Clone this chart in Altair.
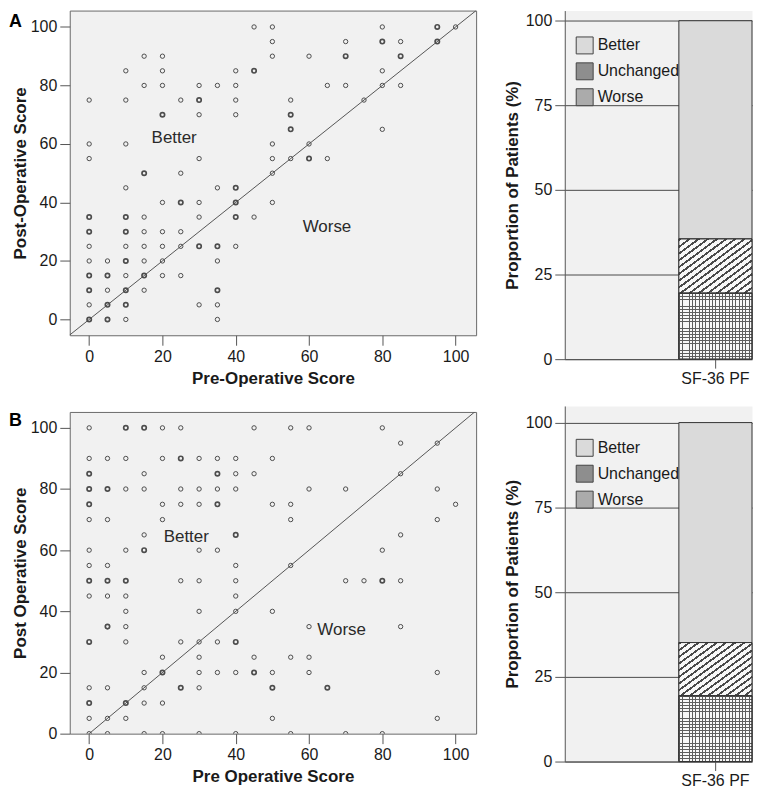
import altair as alt
import pandas as pd

FONT = "Liberation Sans"
INK = "#1a1a1a"
GRAY = "#555555"
PLOT_BG = "#f1f1f1"

# ---------------- Panel A scatter ----------------
a_pre = [
    0, 0, 0, 0, 0, 0, 0, 0, 0, 0, 0,
    5, 5, 5, 5, 5,
    10, 10, 10, 10, 10, 10, 10, 10, 10, 10, 10, 10,
    15, 15, 15, 15, 15, 15, 15, 15, 15,
    20, 20, 20, 20, 20, 20, 20, 20, 20,
    25, 25, 25, 25, 25, 25,
    30, 30, 30, 30, 30, 30, 30, 30,
    35, 35, 35, 35, 35, 35, 35,
    40, 40, 40, 40, 40, 40, 40, 40,
    45, 45, 45,
    50, 50, 50, 50, 50, 50, 50,
    55, 55, 55, 55,
    60, 60, 60,
    65, 65,
    70, 70, 70,
    75,
    80, 80, 80, 80, 80,
    85, 85, 85,
    95, 95,
    100,
]
a_post = [
    75, 60, 55, 35, 30, 25, 20, 15, 10, 5, 0,
    20, 15, 10, 5, 0,
    85, 75, 60, 45, 35, 30, 25, 20, 15, 10, 5, 0,
    90, 80, 50, 35, 30, 25, 20, 15, 10,
    90, 85, 80, 70, 40, 30, 25, 20, 15,
    75, 50, 40, 30, 25, 15,
    80, 75, 70, 55, 40, 35, 25, 5,
    80, 45, 25, 20, 10, 5, 0,
    85, 80, 75, 70, 45, 40, 35, 25,
    100, 85, 35,
    100, 95, 90, 60, 55, 50, 40,
    75, 70, 65, 55,
    90, 60, 55,
    80, 55,
    95, 90, 80,
    75,
    100, 95, 85, 80, 65,
    95, 90, 80,
    100, 95,
    100,
]
a_overlap = [
    1, 1, 1, 2, 2, 1, 1, 2, 2, 1, 2,
    1, 2, 1, 2, 2,
    1, 1, 1, 1, 2, 2, 1, 2, 1, 2, 2, 1,
    1, 1, 2, 1, 1, 1, 1, 2, 1,
    1, 1, 1, 2, 1, 1, 1, 1, 1,
    1, 1, 2, 1, 1, 1,
    1, 2, 1, 1, 1, 1, 2, 1,
    1, 1, 2, 1, 2, 1, 1,
    1, 1, 1, 1, 2, 2, 2, 1,
    1, 2, 1,
    1, 1, 1, 1, 1, 1, 1,
    1, 2, 2, 1,
    1, 1, 2,
    1, 1,
    1, 2, 1,
    1,
    1, 2, 1, 1, 1,
    1, 2, 1,
    2, 2,
    1,
]

# ---------------- Panel B scatter ----------------
b_pre = [
    0, 0, 0, 0, 0, 0, 0, 0, 0, 0, 0, 0, 0, 0, 0,
    5, 5, 5, 5, 5, 5, 5, 5, 5, 5,
    10, 10, 10, 10, 10, 10, 10, 10, 10, 10, 10,
    15, 15, 15, 15, 15, 15, 15, 15, 15,
    20, 20, 20, 20, 20, 20, 20, 20,
    25, 25, 25, 25, 25, 25, 25,
    30, 30, 30, 30, 30, 30, 30, 30, 30, 30, 30,
    35, 35, 35, 35, 35, 35, 35,
    40, 40, 40, 40, 40, 40, 40, 40, 40, 40, 40,
    45, 45, 45, 45,
    50, 50, 50, 50, 50, 50,
    55, 55, 55, 55, 55, 55,
    60, 60, 60, 60, 60,
    65,
    70, 70, 70,
    75,
    80, 80, 80, 80,
    85, 85, 85, 85, 85,
    95, 95, 95, 95, 95,
    100,
]
b_post = [
    100, 90, 85, 80, 75, 70, 60, 55, 50, 45, 30, 15, 10, 5, 0,
    90, 80, 70, 55, 50, 45, 35, 15, 5, 0,
    100, 90, 80, 60, 50, 45, 40, 35, 30, 10, 5,
    100, 85, 80, 65, 60, 20, 15, 10, 0,
    100, 90, 75, 70, 25, 20, 10, 0,
    100, 90, 80, 75, 50, 30, 15,
    90, 80, 75, 60, 50, 40, 30, 25, 20, 15, 0,
    90, 85, 80, 75, 60, 30, 20,
    90, 85, 80, 65, 55, 50, 45, 40, 30, 20, 0,
    100, 85, 25, 20,
    90, 75, 40, 20, 15, 5,
    100, 75, 70, 55, 25, 0,
    100, 80, 35, 25, 20,
    15,
    80, 50, 0,
    50,
    100, 60, 50, 0,
    95, 85, 65, 50, 35,
    95, 80, 70, 20, 5,
    75,
]
b_overlap = [
    1, 1, 2, 2, 2, 1, 1, 1, 2, 1, 2, 1, 2, 1, 1,
    1, 2, 1, 1, 2, 1, 2, 1, 1, 1,
    2, 1, 1, 1, 2, 1, 1, 1, 1, 2, 1,
    2, 1, 1, 1, 2, 1, 1, 1, 1,
    1, 1, 1, 1, 1, 2, 1, 1,
    1, 2, 1, 1, 1, 1, 2,
    1, 1, 1, 1, 1, 1, 1, 1, 1, 1, 1,
    1, 2, 1, 2, 1, 1, 1,
    1, 1, 1, 2, 1, 1, 1, 1, 2, 1, 1,
    1, 1, 1, 2,
    1, 1, 1, 1, 2, 1,
    1, 1, 1, 1, 1, 1,
    1, 1, 1, 1, 1,
    2,
    1, 1, 1,
    1,
    1, 1, 2, 1,
    1, 1, 1, 1, 1,
    1, 1, 1, 1, 1,
    1,
]

# region labels inside the scatter plots
region_text = ["Better", "Worse"]
a_label_pre = [23.2, 64.9]
a_label_post = [62.1, 31.6]
b_label_pre = [26.5, 68.9]
b_label_post = [64.3, 33.9]

# identity reference line (post = pre)
identity_vals = [-10, 110]

# ---------------- Stacked bars ----------------
status = ["Better", "Unchanged", "Worse"]
stack_rank = [3, 2, 1]
a_pct = [64.5, 16.0, 19.5]
b_pct = [64.9, 15.7, 19.4]
measure = "SF-36 PF"
bar_fill = ["#dadada", "#8e8e8e", "#ababab"]

X_DOM = [-5.3, 105.6]
TICKS = [0, 20, 40, 60, 80, 100]

HATCH_LINE = "#4a4a4a"
GRID_LINE = "#5e5e5e"
LIGHT = "#f8f8f8"


def stripes(n, frac, line_col, gap_col, x1, y1, x2, y2):
    stops = []
    for i in range(n):
        a = i / n
        b = (i + frac) / n
        c = (i + 1) / n
        stops += [alt.GradientStop(offset=a, color=line_col), alt.GradientStop(offset=b, color=line_col),
                  alt.GradientStop(offset=b, color=gap_col), alt.GradientStop(offset=c, color=gap_col)]
    return alt.LinearGradient(gradient="linear", stops=stops, x1=x1, y1=y1, x2=x2, y2=y2)


HATCH = stripes(16, 0.34, HATCH_LINE, LIGHT, 0, 0, 1, 1)
GRID_H = stripes(21, 0.27, GRID_LINE, LIGHT, 0, 0, 0, 1)
GRID_V = stripes(22, 0.27, GRID_LINE, "transparent", 0, 0, 1, 0)


def scatter(pre, post, overlap, lab_pre, lab_post, xtitle, ytitle, ydom, h, letter, letter_y):
    pts = pd.DataFrame({"pre": pre, "post": post, "n": overlap})
    labs = pd.DataFrame({"pre": lab_pre, "post": lab_post, "txt": region_text})
    ident = pd.DataFrame({"pre": identity_vals, "post": identity_vals})
    let = pd.DataFrame({"txt": [letter]})

    x = alt.X("pre:Q", scale=alt.Scale(domain=X_DOM, nice=False, zero=False),
              axis=alt.Axis(values=TICKS, title=xtitle, domain=False, grid=False,
                            tickSize=10, labelPadding=3, titlePadding=6))
    y = alt.Y("post:Q", scale=alt.Scale(domain=ydom, nice=False, zero=False),
              axis=alt.Axis(values=TICKS, title=ytitle, domain=False, grid=False,
                            tickSize=10, labelPadding=3, titlePadding=1))

    line = alt.Chart(ident).mark_line(color=GRAY, strokeWidth=1, clip=True).encode(x=x, y=y)
    dots = alt.Chart(pts).mark_point(shape="circle", filled=False, size=19, color="#4d4d4d",
                                      opacity=1, clip=True).encode(
        x=x, y=y,
        strokeWidth=alt.StrokeWidth("n:Q", scale=alt.Scale(domain=[1, 2], range=[1.0, 1.7]), legend=None),
    )
    text = alt.Chart(labs).mark_text(font=FONT, fontSize=17, color="#2a2a2a").encode(
        x=x, y=y, text="txt:N")
    letter_mark = alt.Chart(let).mark_text(font=FONT, fontSize=18, fontWeight="bold", color="#000",
                                           align="left", baseline="alphabetic").encode(
        x=alt.value(-61), y=alt.value(letter_y), text="txt:N")
    return alt.layer(line, dots, text, letter_mark).properties(
        width=408, height=h, view=alt.ViewBackground(fill=PLOT_BG, stroke="#6a6a6a", strokeWidth=1))


def bars(pct, h, ymax, legend_y):
    df = pd.DataFrame({"measure": [measure] * len(status), "status": status, "pct": pct, "rank": stack_rank})
    base = alt.Chart(df).transform_stack(
        stack="pct", groupby=["measure"], sort=[alt.SortField("rank", order="ascending")], as_=["y0", "y1"])
    x = alt.X("measure:N", scale=alt.Scale(paddingInner=0, paddingOuter=0.78, align=1),
              axis=alt.Axis(title=None, labelAngle=0, tickSize=9, labelPadding=2,
                            domainColor=GRAY, tickColor=GRAY))
    y = alt.Y("y0:Q", scale=alt.Scale(domain=[0, ymax], nice=False),
              axis=alt.Axis(values=[0, 25, 50, 75, 100], title="Proportion of Patients (%)",
                            grid=True, gridColor="#4a4a4a", gridWidth=1, domainColor=GRAY,
                            tickColor=GRAY, tickSize=10, labelPadding=3, titlePadding=4))
    y2 = alt.Y2("y1:Q")
    solid = base.mark_bar(stroke="#333333", strokeWidth=1).encode(
        x=x, y=y, y2=y2,
        fill=alt.Fill("status:N", scale=alt.Scale(domain=status, range=bar_fill),
                      legend=alt.Legend(orient="none", legendX=11, legendY=legend_y, title=None,
                                        symbolType="square", symbolSize=289, symbolStrokeColor="#444",
                                        symbolStrokeWidth=1, symbolOpacity=1, labelFont=FONT,
                                        labelFontSize=16, labelColor=INK, labelOffset=4,
                                        rowPadding=4, padding=0)),
    )
    hatch = base.transform_filter(alt.datum.status == "Unchanged").mark_bar(
        fill=HATCH, stroke="#333333", strokeWidth=1).encode(x=x, y=y, y2=y2)
    grid_h = base.transform_filter(alt.datum.status == "Worse").mark_bar(
        fill=GRID_H, stroke="#333333", strokeWidth=1).encode(x=x, y=y, y2=y2)
    grid_v = base.transform_filter(alt.datum.status == "Worse").mark_bar(
        fill=GRID_V, stroke="#333333", strokeWidth=1).encode(x=x, y=y, y2=y2)
    return alt.layer(solid, hatch, grid_h, grid_v).properties(
        width=188, height=h, view=alt.ViewBackground(fill=PLOT_BG, stroke="transparent"))


scA = scatter(a_pre, a_post, a_overlap, a_label_pre, a_label_post,
              "Pre-Operative Score", "Post-Operative Score", [-5.4, 105.6], 326, "A", 17)
scB = scatter(b_pre, b_post, b_overlap, b_label_pre, b_label_post,
              "Pre Operative Score", "Post Operative Score", [0, 105.2], 323, "B", 14)
brA = bars(a_pct, 350, 103, 26)
brB = bars(b_pct, 357, 104.9, 33)

left = alt.vconcat(scA, scB, spacing=24)
right = alt.vconcat(brA, brB, spacing=18).resolve_scale(fill="independent").resolve_legend(fill="independent")

chart = alt.hconcat(left, right, spacing=25).resolve_scale(fill="independent").resolve_legend(
    fill="independent").properties(padding=0).configure(background="white").configure_axis(
    labelFont=FONT, titleFont=FONT, labelFontSize=16, titleFontSize=17, titleFontWeight="bold",
    labelColor=INK, titleColor=INK, tickColor=GRAY, tickWidth=1)

chart.save("out.html", embed_options={"renderer": "svg", "actions": False})
